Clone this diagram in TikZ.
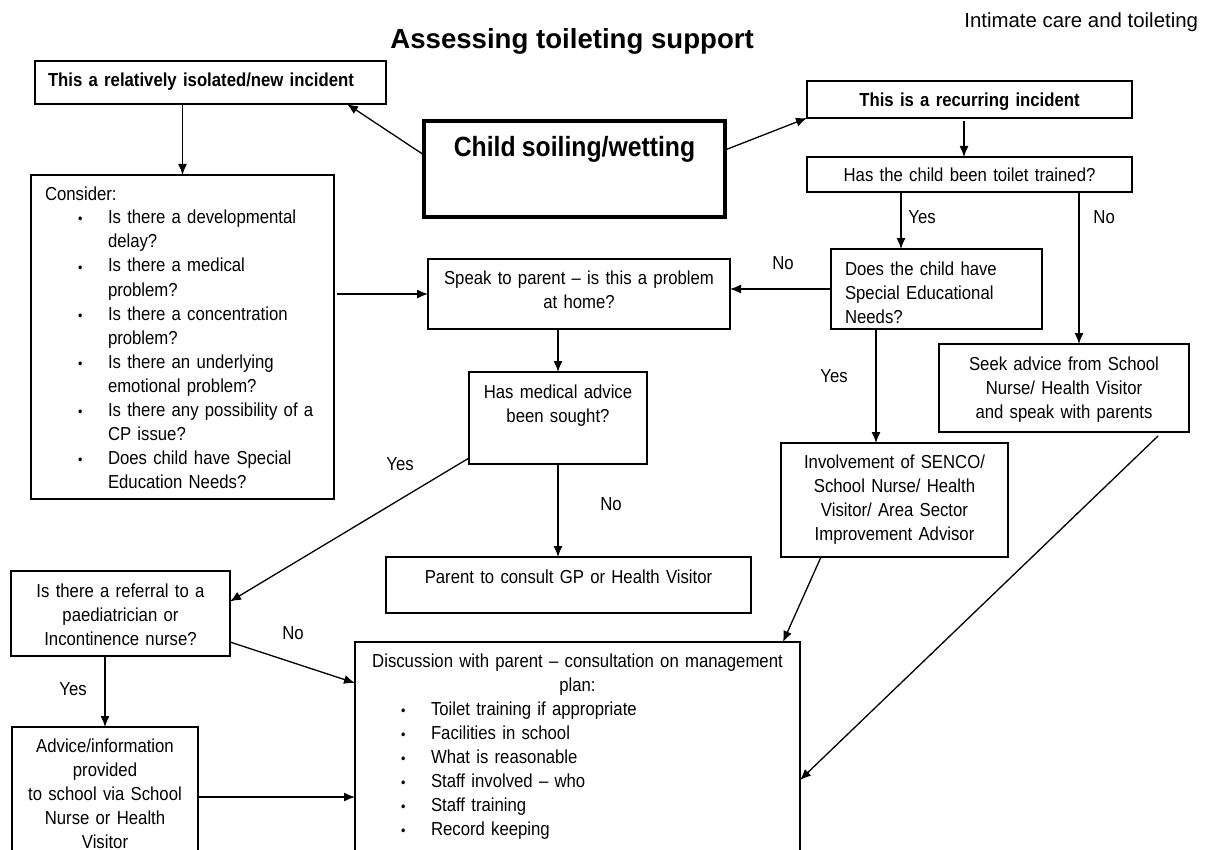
\documentclass[tikz,border=0pt]{standalone}
\usepackage{fontspec}
\usetikzlibrary{arrows.meta}
\setmainfont{Liberation Sans}
\newfontfamily\narrowsf{Liberation Sans}[FakeStretch=0.89]
\newcommand\bodyfont{\narrowsf\fontsize{9.4}{12}\selectfont}
\newcommand\bitem{\hspace*{16.5pt}\makebox[15pt][l]{\fontsize{7}{7}\selectfont•}}
\newcommand\bcont{\hspace*{31.5pt}}

\begin{document}
\begin{tikzpicture}[x=0.5pt,y=-0.5pt,
  box/.style={draw,line width=0.75pt,outer sep=0pt,inner xsep=4pt,inner ysep=0pt,
    anchor=north west,align=center,font=\bodyfont},
  lbl/.style={anchor=base west,inner sep=0pt,font=\bodyfont},
  arr/.style={line width=0.65pt,-{Latex[length=5.5pt,width=4.5pt]}}]
  \useasboundingbox (0,0) rectangle (1219,850);
  \clip (0,0) rectangle (1219,850);

  % headings
  \node[anchor=base west,inner sep=0pt,font=\fontsize{10.2}{12}\selectfont] (header) at (964,28) {Intimate care and toileting};
  \node[anchor=base west,inner sep=0pt,font=\bfseries\fontsize{13.8}{16}\selectfont] (title) at (390,49) {Assessing toileting support};

  % boxes
  \node[box,align=left,inner xsep=6.5pt,text width=162.5pt,text height=13pt,text depth=8.5pt] (iso) at (35,61)
       {\textbf{This a relatively isolated/new incident}};
  \node[box,line width=2pt,text width=142.5pt,text height=18pt,text depth=30pt] (child) at (424,121)
       {\fontsize{13.9}{16}\selectfont\bfseries Child soiling/wetting};
  \node[box,text width=154.5pt,text height=13pt,text depth=5.5pt] (recur) at (807,81)
       {\textbf{This is a recurring incident}};
  \node[box,text width=154.5pt,text height=12.5pt,text depth=5pt] (trained) at (807,157)
       {Has the child been toilet trained?};
  \node[box,align=left,inner xsep=7pt,text width=137.5pt,text height=12.5pt,text depth=149.5pt] (consider) at (31,175)
       {Consider:\\
        \bitem Is there a developmental\\
        \bcont delay?\\
        \bitem Is there a medical\\
        \bcont problem?\\
        \bitem Is there a concentration\\
        \bcont problem?\\
        \bitem Is there an underlying\\
        \bcont emotional problem?\\
        \bitem Is there any possibility of a\\
        \bcont CP issue?\\
        \bitem Does child have Special\\
        \bcont Education Needs?};
  \node[box,text width=143pt,text height=12.5pt,text depth=22.5pt] (speak) at (428,259)
       {Speak to parent – is this a problem\\at home?};
  \node[box,align=left,inner xsep=7pt,text width=91.5pt,text height=13pt,text depth=27pt] (sen) at (831,249)
       {Does the child have\\Special Educational\\Needs?};
  \node[box,text width=81pt,text height=13pt,text depth=33pt] (medical) at (469,372)
       {Has medical advice\\been sought?};
  \node[box,text width=117pt,text height=13pt,text depth=31pt] (seek) at (939,344)
       {Seek advice from School\\Nurse/ Health Visitor\\and speak with parents};
  \node[box,text width=105.5pt,text height=12.5pt,text depth=44.5pt] (senco) at (781,443)
       {Involvement of SENCO/\\School Nurse/ Health\\Visitor/ Area Sector\\Improvement Advisor};
  \node[box,text width=174.5pt,text height=13pt,text depth=15pt] (gp) at (386,557)
       {Parent to consult GP or Health Visitor};
  \node[box,text width=101.5pt,text height=13pt,text depth=29.5pt] (referral) at (11,571)
       {Is there a referral to a\\paediatrician or\\Incontinence nurse?};
  \node[box,align=left,inner xsep=6.5pt,text width=209.5pt,text height=12.5pt,text depth=106.5pt] (disc) at (355,642)
       {\makebox[\linewidth]{Discussion with parent – consultation on management}\\
        \makebox[\linewidth]{plan:}\\
        \bitem Toilet training if appropriate\\
        \bitem Facilities in school\\
        \bitem What is reasonable\\
        \bitem Staff involved – who\\
        \bitem Staff training\\
        \bitem Record keeping};
  \node[box,text width=85pt,text height=12.5pt,text depth=64pt] (advice) at (12,727)
       {Advice/information\\provided\\to school via School\\Nurse or Health\\Visitor};

  % yes/no labels
  \node[lbl] (yesA) at (908,223) {Yes};
  \node[lbl] (noA) at (1093,223) {No};
  \node[lbl] (noB) at (772,269) {No};
  \node[lbl] (yesB) at (820,382) {Yes};
  \node[lbl] (yesC) at (386,470) {Yes};
  \node[lbl] (noC) at (600,510) {No};
  \node[lbl] (noD) at (282,639) {No};
  \node[lbl] (yesD) at (59,695) {Yes};

  % connectors
  \draw[arr] ([yshift=7pt]child.west) -- ([xshift=-19.5pt]iso.south east);
  \draw[arr] ([yshift=9.5pt]child.east) -- (recur.south west);
  \draw[arr] (consider.north |- iso.south) -- (consider.north);
  \draw[arr] ([xshift=-2.75pt,yshift=-1.5pt]recur.south) -- ([xshift=-2.75pt]trained.north);
  \draw[arr] ([xshift=-34.25pt]trained.south) -- ([xshift=-17.75pt]sen.north);
  \draw[arr] ([xshift=54.75pt]trained.south) -- ([xshift=7.5pt]seek.north);
  \draw[arr] (sen.west) -- (sen.west -| speak.east);
  \draw[arr,shorten <=1.5pt] (speak.west -| consider.east) -- (speak.west);
  \draw[arr] (medical.north |- speak.south) -- (medical.north);
  \draw[arr] ([xshift=-30.25pt]sen.south) -- ([xshift=-9.25pt]senco.north);
  \draw[arr] (medical.south) -- (medical.south |- gp.north);
  \draw[arr] ([yshift=3pt]medical.south west) -- ([yshift=6pt]referral.east);
  \draw[arr] ([yshift=-14.25pt]referral.east) -- ([yshift=-20.5pt]disc.north west);
  \draw[arr] (advice.north |- referral.south) -- (advice.north);
  \draw[arr] ([yshift=-35pt]advice.north east) -- ([yshift=-77.5pt]disc.north west);
  \draw[arr] ([xshift=20pt]senco.south west) -- ([xshift=-8.5pt]disc.north east);
  \draw[arr] ([xshift=-15.5pt,yshift=-2pt]seek.south east) -- ([yshift=-69pt]disc.north east);
\end{tikzpicture}
\end{document}
